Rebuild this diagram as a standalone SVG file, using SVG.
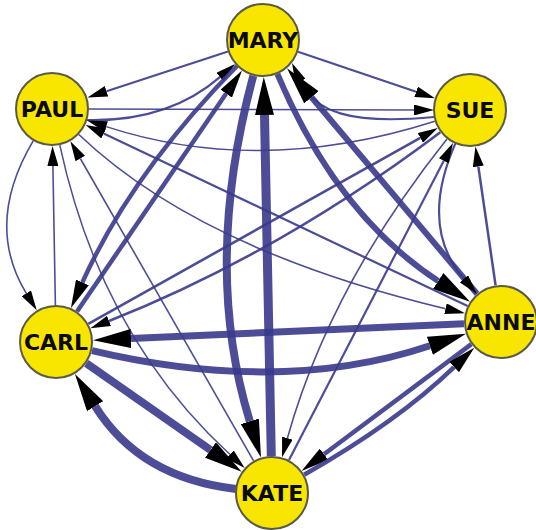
<svg xmlns="http://www.w3.org/2000/svg" width="536" height="530" viewBox="0 0 536 530">
<style>
.e{fill:none;stroke:#3a3a8c;stroke-opacity:0.9}
.s{marker-end:url(#ah-s)}
.m{marker-end:url(#ah-m)}
.l{marker-end:url(#ah-l)}
.node circle{fill:#f8e600;stroke:#5a5a48;stroke-width:2}
.node text{font-family:"DejaVu Sans","Liberation Sans",sans-serif;font-weight:bold;font-size:22px;fill:#0a0a0a;text-anchor:middle}
</style>
<defs>
<marker id="ah-s" viewBox="0 0 20 11" markerWidth="20" markerHeight="11" refX="0" refY="5.5" orient="auto" markerUnits="userSpaceOnUse"><path d="M0,0L20,5.5L0,11Z" fill="#000"/></marker>
<marker id="ah-m" viewBox="0 0 28 14" markerWidth="28" markerHeight="14" refX="0" refY="7" orient="auto" markerUnits="userSpaceOnUse"><path d="M0,0L28,7L0,14Z" fill="#000"/></marker>
<marker id="ah-l" viewBox="0 0 38 19" markerWidth="38" markerHeight="19" refX="0" refY="9.5" orient="auto" markerUnits="userSpaceOnUse"><path d="M0,0L38,9.5L0,19Z" fill="#000"/></marker>
</defs>
<rect width="536" height="530" fill="#fff"/>
<g id="connectors">
<path class="e s" stroke-width="2.2" d="M228,51.5 L106.5,91.3"/>
<path class="e s" stroke-width="2.2" d="M87,120 Q168,122 219.9,77.1"/>
<path class="e s" stroke-width="1.6" d="M88,109 L414,110"/>
<path class="e s" stroke-width="1.5" d="M434.8,121.3 Q261,177 106.2,126.6"/>
<path class="e s" stroke-width="2.2" d="M298,51.8 L416.1,91.8"/>
<path class="e s" stroke-width="2.2" d="M434,117 C350,125 315,112 300.5,81.1"/>
<path class="e s" stroke-width="1.6" d="M33.2,140.9 Q-16,224 26.3,293.3"/>
<path class="e s" stroke-width="1.6" d="M55.4,305 L52.9,166"/>
<path class="e m" stroke-width="4.5" d="M237,66 Q131,174 82.4,282.4"/>
<path class="e m" stroke-width="4.5" d="M77,311.5 L226.2,93.6"/>
<path class="e l" stroke-width="8" d="M253.3,75.7 Q202,266 249.8,421.3"/>
<path class="e l" stroke-width="9" d="M271.3,456 L264.5,115"/>
<path class="e l" stroke-width="6" d="M477,293.7 L311.5,97.3"/>
<path class="e l" stroke-width="6" d="M277.4,74 Q337,215 438.2,281"/>
<path class="e s" stroke-width="2.5" d="M495.6,285.4 L478.3,166.4"/>
<path class="e s" stroke-width="2.2" d="M455.2,143.9 Q419,226.6 463.9,278.8"/>
<path class="e s" stroke-width="2.2" d="M467.6,306.1 L103.7,133.5"/>
<path class="e s" stroke-width="1.6" d="M78.8,134.5 Q200,250 445.5,308.7"/>
<path class="e s" stroke-width="1.6" d="M253.6,460.9 L80.3,158.5"/>
<path class="e s" stroke-width="1.5" d="M59.8,145.2 Q101,336 230,454.5"/>
<path class="e s" stroke-width="2.2" d="M289,460 L443.8,160.8"/>
<path class="e s" stroke-width="1.6" d="M447,139 Q330,286 287.4,438.1"/>
<path class="e m" stroke-width="4.5" d="M471.4,344.1 L324,454.2"/>
<path class="e m" stroke-width="4.5" d="M304.2,474.7 Q397,422 454.1,367.1"/>
<path class="e s" stroke-width="2.6" d="M88.3,323.9 L420.3,137.9"/>
<path class="e s" stroke-width="2.6" d="M440.4,132.2 Q278.6,253.9 109,321"/>
<path class="e l" stroke-width="7" d="M464,323.7 L131,338.6"/>
<path class="e l" stroke-width="7" d="M92,350.6 Q281,395.5 429.9,345.7"/>
<path class="e l" stroke-width="8" d="M86.3,363.2 L210.5,450"/>
<path class="e l" stroke-width="8" d="M236,489 Q140,478 95.1,406.2"/>
</g>
<g id="mary" class="node"><circle cx="263" cy="40" r="36"/><text x="263" y="48">MARY</text></g>
<g id="paul" class="node"><circle cx="52" cy="109" r="36"/><text x="52" y="117">PAUL</text></g>
<g id="sue" class="node"><circle cx="470" cy="110" r="36"/><text x="470" y="118">SUE</text></g>
<g id="carl" class="node"><circle cx="56" cy="342" r="36"/><text x="56" y="350">CARL</text></g>
<g id="anne" class="node"><circle cx="501" cy="322" r="36"/><text x="501" y="330">ANNE</text></g>
<g id="kate" class="node"><circle cx="272" cy="493" r="36"/><text x="272" y="501">KATE</text></g>
</svg>
